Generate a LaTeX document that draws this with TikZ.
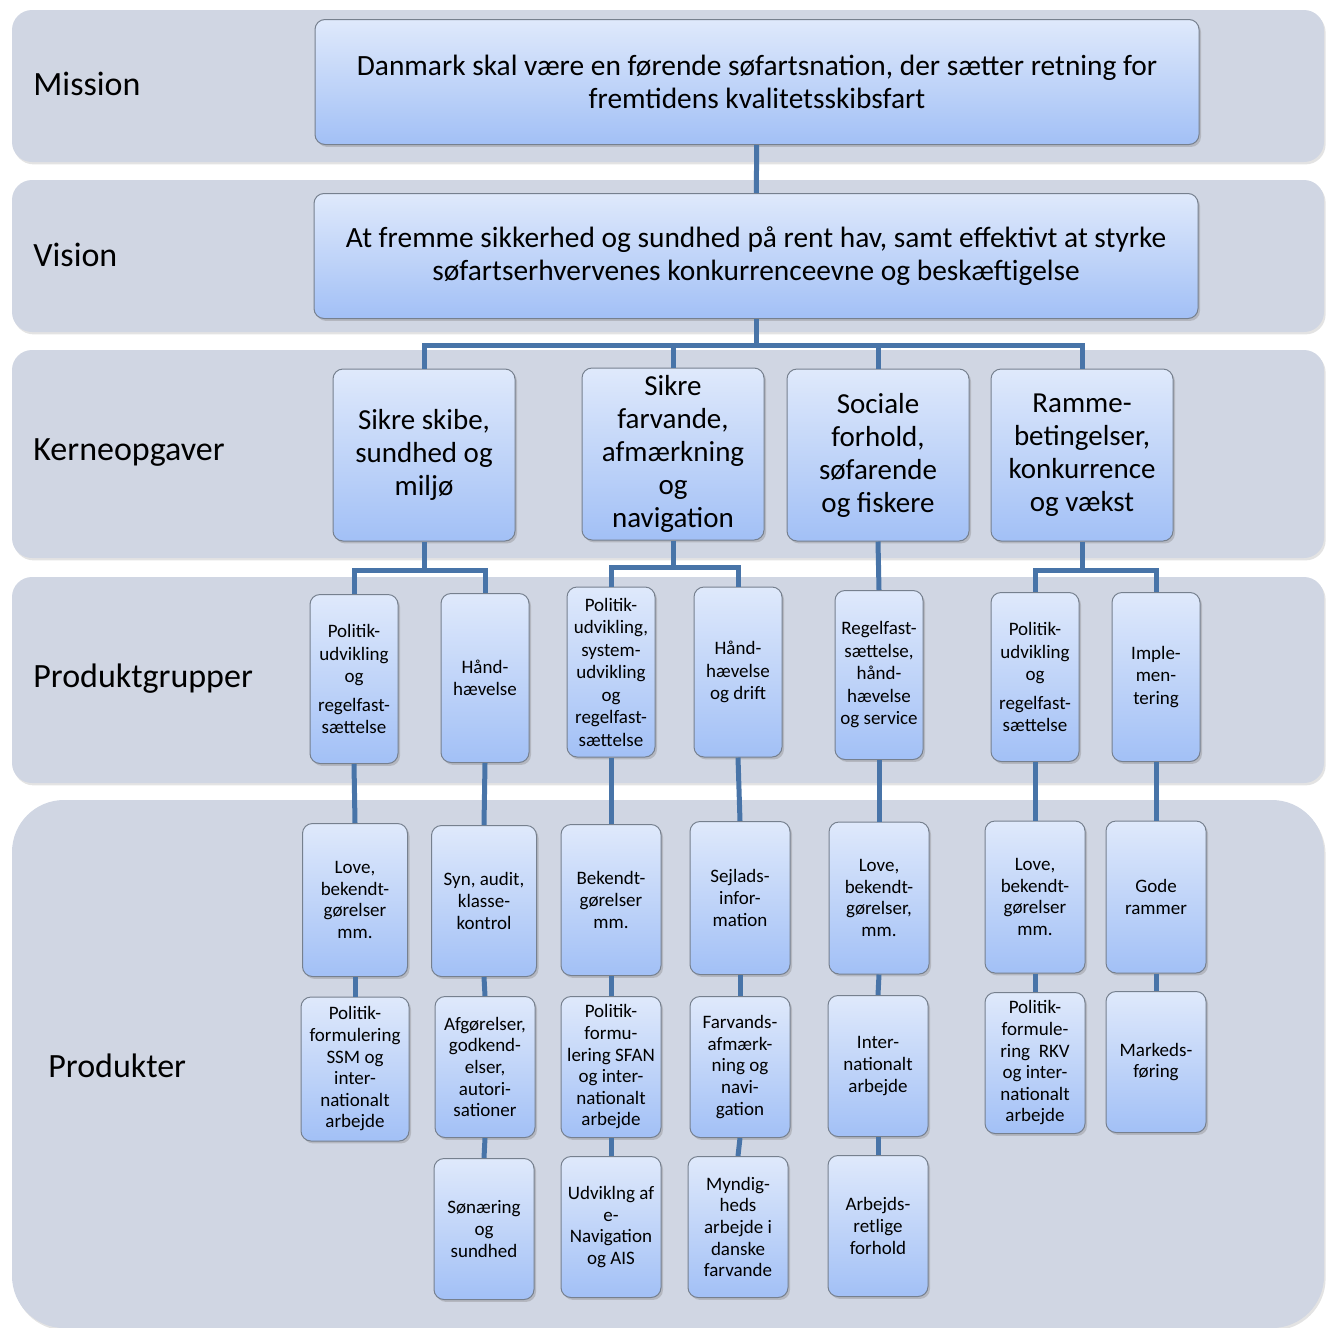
\documentclass[tikz,border=0pt]{standalone}
\usepackage{fontspec}
\setmainfont{Carlito}
\usetikzlibrary{shadows}

\definecolor{bandgray}{RGB}{208,214,227}
\definecolor{boxtop}{RGB}{223,233,251}
\definecolor{boxbottom}{RGB}{162,192,246}
\definecolor{boxline}{RGB}{118,128,142}
\definecolor{linkblue}{RGB}{72,116,168}

\newcommand\labelfont{\fontsize{17}{20}\selectfont}
\newcommand\topfont{\fontsize{14.7}{16.5}\selectfont}
\newcommand\kernefont{\fontsize{14.5}{16.5}\selectfont}
\newcommand\gruppefont{\fontsize{9.5}{11.25}\selectfont}
\newcommand\produktfont{\fontsize{9.5}{10.8}\selectfont}

\tikzset{
	band/.style={fill=bandgray, rounded corners=10pt,
		drop shadow={opacity=0.22, shadow xshift=0.8pt, shadow yshift=-1.2pt}},
	bandlabel/.style={anchor=west, inner sep=0pt, font=\labelfont},
	box/.style={draw=boxline, line width=0.5pt, rounded corners=5pt,
		top color=boxtop, bottom color=boxbottom, align=center, inner sep=1pt,
		drop shadow={opacity=0.35, shadow xshift=1pt, shadow yshift=-1.2pt}},
	topbox/.style={box, font=\topfont, minimum width=442pt, minimum height=62.5pt},
	kernebox/.style={box, font=\kernefont, minimum width=91pt, minimum height=86pt},
	gruppebox/.style={box, font=\gruppefont, minimum width=44pt, minimum height=84.5pt},
	produktbox/.style={box, font=\produktfont, minimum width=50pt, minimum height=70.5pt},
	link/.style={draw=linkblue, line width=2.5pt}
}

\begin{document}
\begin{tikzpicture}[x=0.5pt, y=-0.5pt]
	\useasboundingbox (0,0) rectangle (1328,1328);
	%bands
	\path[band] (12,10) rectangle (1324,162);
	\path[band] (12,180) rectangle (1324,332);
	\path[band] (12,350) rectangle (1324,558);
	\path[band] (12,577) rectangle (1324,783);
	\path[band, rounded corners=26pt] (12,800) rectangle (1324,1328);
	%band labels
	\node[bandlabel] (lmission) at (33,84) {Mission};
	\node[bandlabel] (lvision) at (33,255) {Vision};
	\node[bandlabel] (lkerne) at (33,453) {Kerneopgaver};
	\node[bandlabel] (lgrupper) at (33,679) {Produktgrupper};
	\node[bandlabel] (lprodukter) at (48,1066) {Produkter};
	%mission and vision
	\node[topbox] (mission) at (757,82)
	{Danmark skal være en førende søfartsnation, der sætter retning for\\fremtidens kvalitetsskibsfart};
	\node[topbox] (vision) at (756,256)
	{At fremme sikkerhed og sundhed på rent hav, samt effektivt at styrke\\søfartserhvervenes konkurrenceevne og beskæftigelse};
	%kerneopgaver
	\node[kernebox] (k1) at (424,455) {Sikre skibe,\\sundhed og\\miljø};
	\node[kernebox] (k2) at (673,454) {Sikre\\farvande,\\afmærkning\\og\\navigation};
	\node[kernebox] (k3) at (878,455) {Sociale\\forhold,\\søfarende\\og fiskere};
	\node[kernebox] (k4) at (1082,455) {Ramme-\\betingelser,\\konkurrence\\og vækst};
	%produktgrupper
	\node[gruppebox] (a1) at (354,679) {Politik-\\udvikling\\og\\[3pt]regelfast-\\sættelse};
	\node[gruppebox] (a2) at (485,678) {Hånd-\\hævelse};
	\node[gruppebox, minimum height=85pt] (b1) at (611,672) {Politik-\\udvikling,\\system-\\udvikling\\og\\regelfast-\\sættelse};
	\node[gruppebox, minimum height=85pt] (b2) at (738,672) {Hånd-\\hævelse\\og drift};
	\node[gruppebox] (c1) at (879,675) {Regelfast-\\sættelse,\\hånd-\\hævelse\\og service};
	\node[gruppebox] (d1) at (1035,677) {Politik-\\udvikling\\og\\[3pt]regelfast-\\sættelse};
	\node[gruppebox] (d2) at (1156,677) {Imple-\\men-\\tering};
	%produkter
	\node[produktbox, minimum width=52.5pt, minimum height=76.5pt] (pa1a) at (355,900) {Love,\\bekendt-\\gørelser\\mm.};
	\node[produktbox, minimum width=54pt, minimum height=72pt] (pa1b) at (355,1069) {Politik-\\formulering\\SSM og\\inter-\\nationalt\\arbejde};
	\node[produktbox, minimum width=52.5pt, minimum height=75.5pt] (pa2a) at (484,901) {Syn, audit,\\klasse-\\kontrol};
	\node[produktbox] (pa2b) at (485,1067) {Afgørelser,\\godkend-\\elser,\\autori-\\sationer};
	\node[produktbox] (pa2c) at (484,1229) {Sønæring\\og\\sundhed};
	\node[produktbox, minimum height=75.5pt] (pb1a) at (611,900) {Bekendt-\\gørelser\\mm.};
	\node[produktbox] (pb1b) at (611,1067) {Politik-\\formu-\\lering SFAN\\og inter-\\nationalt\\arbejde};
	\node[produktbox] (pb1c) at (611,1227) {Udviklng af\\e-\\Navigation\\og AIS};
	\node[produktbox, minimum height=76.5pt] (pb2a) at (740,898) {Sejlads-\\infor-\\mation};
	\node[produktbox] (pb2b) at (740,1067) {Farvands-\\afmærk-\\ning og\\navi-\\gation};
	\node[produktbox] (pb2c) at (738,1227) {Myndig-\\heds\\arbejde i\\danske\\farvande};
	\node[produktbox, minimum height=76pt] (pc1a) at (879,898) {Love,\\bekendt-\\gørelser,\\mm.};
	\node[produktbox] (pc1b) at (878,1066) {Inter-\\nationalt\\arbejde};
	\node[produktbox] (pc1c) at (878,1226) {Arbejds-\\retlige\\forhold};
	\node[produktbox, minimum height=76pt] (pd1a) at (1035,897) {Love,\\bekendt-\\gørelser\\mm.};
	\node[produktbox] (pd1b) at (1035,1063) {Politik-\\formule-\\ring~ RKV\\og inter-\\nationalt\\arbejde};
	\node[produktbox, minimum height=76pt] (pd2a) at (1156,897) {Gode\\rammer};
	\node[produktbox] (pd2b) at (1156,1062) {Markeds-\\føring};
	%connectors
	\coordinate (kbar) at (758,345);
	\coordinate (g1bar) at (424,570);
	\coordinate (g2bar) at (673,567);
	\coordinate (g4bar) at (1084,570);
	\draw[link] (mission) -- (vision);
	\draw[link] (vision.south) -- (vision.south |- kbar);
	\draw[link] (k1.north) -- (k1.north |- kbar) -- (k4.north |- kbar) -- (k4.north);
	\draw[link] (k2.north |- kbar) -- (k2.north);
	\draw[link] (k3.north |- kbar) -- (k3.north);
	\draw[link] (k1.south) -- (k1.south |- g1bar);
	\draw[link] (a1.north) -- (a1.north |- g1bar) -- (a2.north |- g1bar) -- (a2.north);
	\draw[link] (k2.south) -- (k2.south |- g2bar);
	\draw[link] (b1.north) -- (b1.north |- g2bar) -- (b2.north |- g2bar) -- (b2.north);
	\draw[link] (k3.south) -- (c1.north);
	\draw[link] (k4.south) -- (k4.south |- g4bar);
	\draw[link] (d1.north) -- (d1.north |- g4bar) -- (d2.north |- g4bar) -- (d2.north);
	\foreach \u/\v in {a1/pa1a, pa1a/pa1b, a2/pa2a, pa2a/pa2b, pa2b/pa2c,
		b1/pb1a, pb1a/pb1b, pb1b/pb1c, b2/pb2a, pb2a/pb2b, pb2b/pb2c,
		c1/pc1a, pc1a/pc1b, pc1b/pc1c, d1/pd1a, pd1a/pd1b, d2/pd2a, pd2a/pd2b}
	\draw[link] (\u.south) -- (\v.north);
\end{tikzpicture}
\end{document}
